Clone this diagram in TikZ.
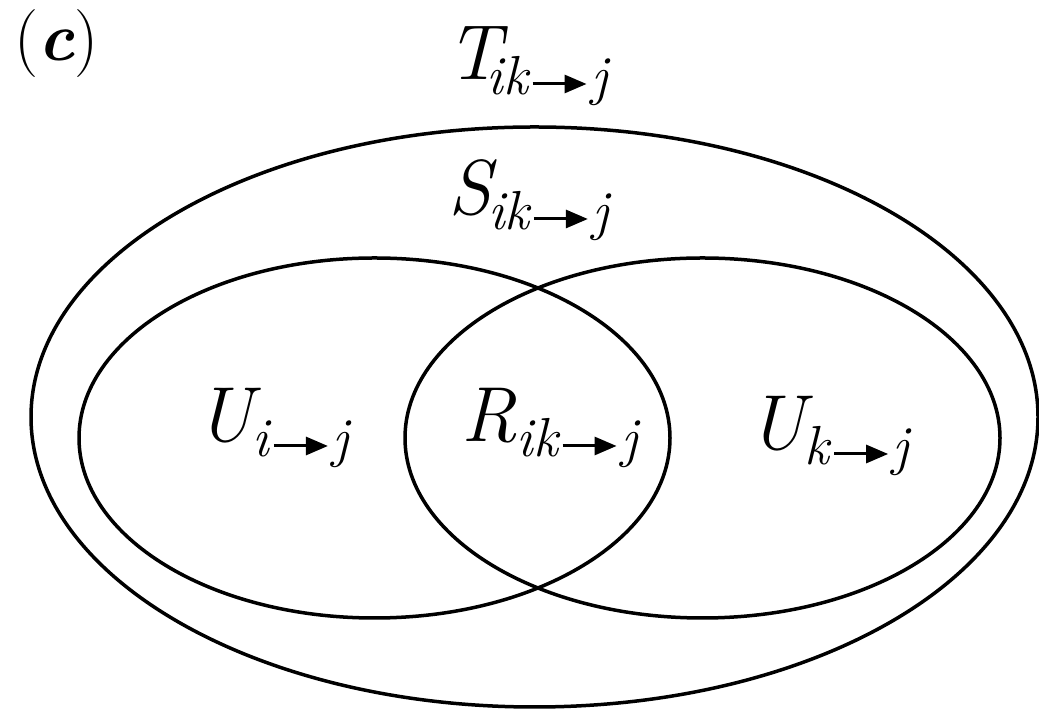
\documentclass[tikz,border=0pt]{standalone}
\usetikzlibrary{arrows.meta}
\newcommand\sarr{\kern3pt\tikz[baseline=-11pt]\draw[line width=3pt,-{Triangle[length=22pt,width=18pt]}] (0pt,0pt)--(54pt,0pt);\kern3pt}
\newcommand\vlab[3][0pt]{{\itshape #2}\kern#1\raisebox{-15pt}{\fontsize{55}{55}\selectfont\itshape #3}}
\tikzset{
  setline/.style={line width=3.5pt},
  vlabel/.style={anchor=base west, inner sep=0pt, font=\fontsize{78}{78}\selectfont},
}
\begin{document}
\begin{tikzpicture}[x=1pt,y=1pt]
\useasboundingbox (0,0) rectangle (1039,711);
% sets
\draw[setline] (534.5,294) ellipse [x radius=503.5, y radius=290];
\draw[setline] (374.5,273) ellipse [x radius=295.5, y radius=180];
\draw[setline] (702.5,273) ellipse [x radius=297.5, y radius=180];
% labels
\node[anchor=base west, inner sep=0pt, font=\fontsize{68}{68}\selectfont] (lblc) at (14,650) {(\textbf{\textit{c}})};
\node[vlabel] (lblT) at (446,631) {\vlab[-14pt]{T}{ik\sarr j}};
\node[vlabel] (lblS) at (448,496) {\vlab[-3pt]{S}{ik\sarr j}};
\node[vlabel] (lblR) at (461,269) {\vlab{R}{ik\sarr j}};
\node[vlabel] (lblUi) at (196,269) {\vlab{U}{i\sarr j}};
\node[vlabel] (lblUk) at (748,261) {\vlab{U}{k\sarr j}};
\end{tikzpicture}
\end{document}
